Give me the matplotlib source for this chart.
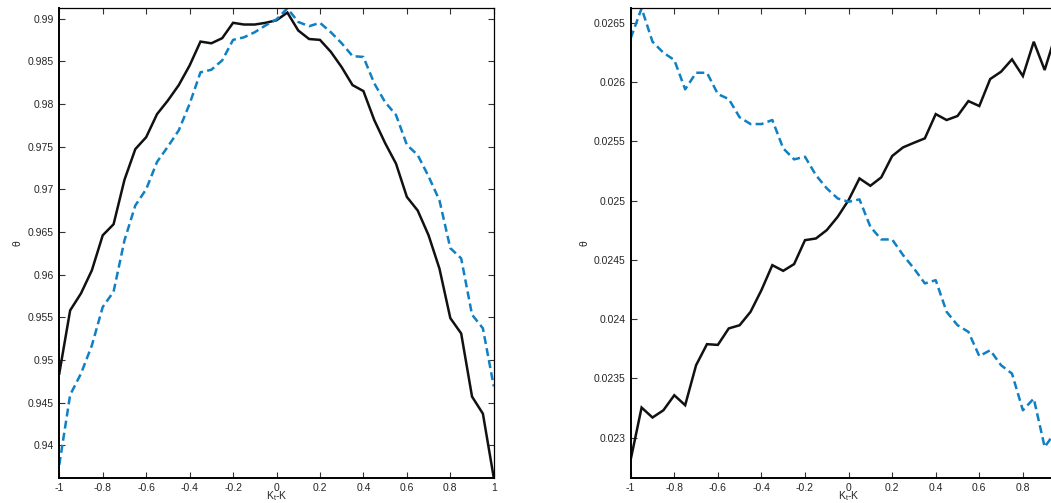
import numpy as np
import matplotlib
matplotlib.use("Agg")
import matplotlib.pyplot as plt

plt.rcParams['font.family'] = ['Liberation Sans', 'DejaVu Sans']
plt.rcParams['axes.unicode_minus'] = False

# shift K_t - K, sampled every 0.05
k_shift = np.round(np.arange(-1, 1.0001, 0.05), 2)

# left panel: theta near 1
theta_a_solid = [0.9484, 0.9558, 0.9578, 0.9605, 0.9646, 0.9659, 0.9711, 0.9747, 0.9761, 0.9788,
                 0.9804, 0.9822, 0.9845, 0.9873, 0.9871, 0.9877, 0.9895, 0.9893, 0.9893, 0.9895,
                 0.9898, 0.9907, 0.9886, 0.9876, 0.9875, 0.9861, 0.9843, 0.9822, 0.9815, 0.9781,
                 0.9754, 0.9730, 0.9691, 0.9675, 0.9646, 0.9607, 0.9549, 0.9531, 0.9457, 0.9437,
                 0.9362]
theta_a_dashed = [0.9377, 0.9459, 0.9484, 0.9517, 0.9562, 0.9580, 0.9640, 0.9681, 0.9700, 0.9732,
                  0.9750, 0.9769, 0.9800, 0.9837, 0.9840, 0.9851, 0.9875, 0.9878, 0.9884, 0.9892,
                  0.9899, 0.9912, 0.9896, 0.9891, 0.9895, 0.9884, 0.9871, 0.9856, 0.9855, 0.9824,
                  0.9802, 0.9787, 0.9752, 0.9740, 0.9715, 0.9687, 0.9631, 0.9619, 0.9553, 0.9537,
                  0.9469]

# right panel: theta near 0.025
theta_b_solid = [0.022815, 0.023254, 0.023170, 0.023231, 0.023358, 0.023274, 0.023611, 0.023789,
                 0.023783, 0.023922, 0.023949, 0.024062, 0.024245, 0.024456, 0.024408, 0.024465,
                 0.024667, 0.024681, 0.024752, 0.024864, 0.025005, 0.025188, 0.025126, 0.025197,
                 0.025377, 0.025450, 0.025489, 0.025526, 0.025731, 0.025681, 0.025715, 0.025841,
                 0.025799, 0.026027, 0.026089, 0.026193, 0.026052, 0.026342, 0.026103, 0.026400,
                 0.026300]
theta_b_dashed = [0.026371, 0.026624, 0.026342, 0.026249, 0.026188, 0.025940, 0.026080, 0.026080,
                  0.025900, 0.025858, 0.025704, 0.025647, 0.025647, 0.025681, 0.025442, 0.025349,
                  0.025371, 0.025216, 0.025104, 0.025019, 0.024991, 0.025011, 0.024780, 0.024673,
                  0.024673, 0.024541, 0.024428, 0.024302, 0.024329, 0.024062, 0.023949, 0.023893,
                  0.023688, 0.023738, 0.023611, 0.023541, 0.023231, 0.023330, 0.022921, 0.023050,
                  0.022662]

x_ticks = [-1, -0.8, -0.6, -0.4, -0.2, 0, 0.2, 0.4, 0.6, 0.8, 1]
x_ticklabels = ['-1', '-0.8', '-0.6', '-0.4', '-0.2', '0', '0.2', '0.4', '0.6', '0.8', '1']
y_ticks_a = [0.94, 0.945, 0.95, 0.955, 0.96, 0.965, 0.97, 0.975, 0.98, 0.985, 0.99]
y_ticks_b = [0.023, 0.0235, 0.024, 0.0245, 0.025, 0.0255, 0.026, 0.0265]

BLUE = '#0f80c4'
TXT = '#262626'

fig = plt.figure(figsize=(10.51, 5.03), dpi=100)
ax_a = fig.add_axes([0.0564, 0.0503, 0.4134, 0.9332])
ax_b = fig.add_axes([0.6001, 0.0503, 0.4146, 0.9332])


def style_axes(ax, solid, dashed, yticks, ypad):
    ax.plot(k_shift, solid, color='#111111', lw=1.8, solid_joinstyle='miter')
    ax.plot(k_shift, dashed, color=BLUE, lw=1.8, dashes=(3.2, 1.7))
    ax.set_xlim(-1, 1)
    lo = min(min(solid), min(dashed))
    hi = max(max(solid), max(dashed))
    ax.set_ylim(lo, hi)
    ax.set_xticks(x_ticks)
    ax.set_xticklabels(x_ticklabels)
    ax.set_yticks(yticks)
    ax.set_yticklabels(['%g' % v for v in yticks])
    ax.tick_params(direction='in', length=4.5, width=0.8, top=True, right=True,
                   labelsize=7.5, labelcolor=TXT, color='#333333', pad=4)
    for side in ['left', 'bottom']:
        ax.spines[side].set_linewidth(1.4)
    for side in ['top', 'right']:
        ax.spines[side].set_linewidth(0.9)
    ax.set_xlabel(r'K$_\mathregular{t}$-K', fontsize=7.5, color=TXT, labelpad=-3)
    ax.set_ylabel('θ', fontsize=7.5, color=TXT, labelpad=ypad)


style_axes(ax_a, theta_a_solid, theta_a_dashed, y_ticks_a, 4)
style_axes(ax_b, theta_b_solid, theta_b_dashed, y_ticks_b, 3)

fig.savefig('out.png', dpi=100)
